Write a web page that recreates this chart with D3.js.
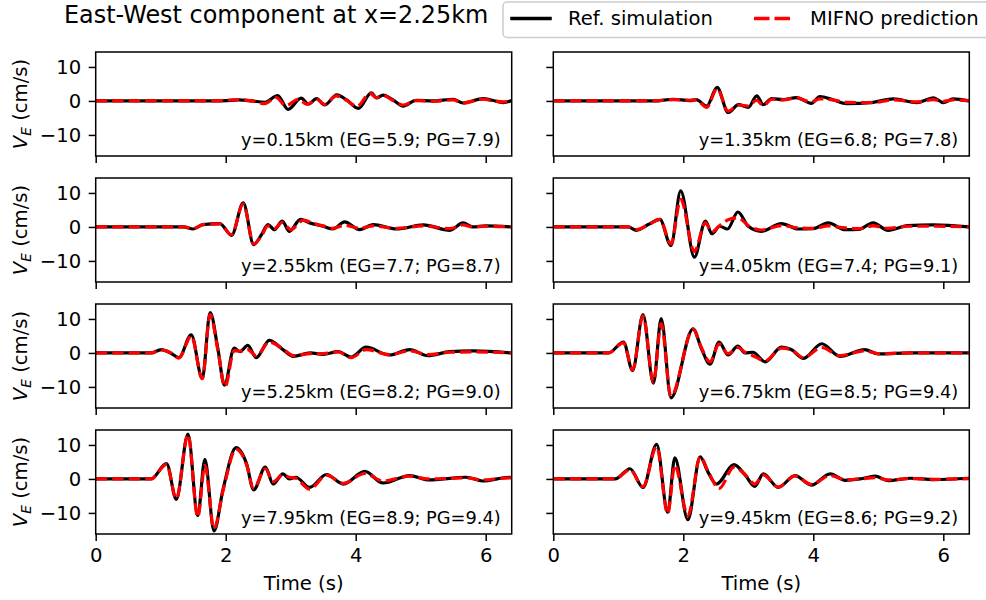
<!DOCTYPE html>
<html>
<head>
<meta charset="utf-8">
<script src="https://cdn.jsdelivr.net/npm/d3@7"></script>
<style>
  html, body { margin: 0; padding: 0; background: #fff; }
  svg { display: block; font-family: "DejaVu Sans", sans-serif; }
</style>
</head>
<body>
<svg id="chart" width="986" height="600"></svg>
<script>
// Station labels (one per panel, left column then right column, top to bottom)
const stationLabels = [
  "y=0.15km (EG=5.9; PG=7.9)",
  "y=1.35km (EG=6.8; PG=7.8)",
  "y=2.55km (EG=7.7; PG=8.7)",
  "y=4.05km (EG=7.4; PG=9.1)",
  "y=5.25km (EG=8.2; PG=9.0)",
  "y=6.75km (EG=8.5; PG=9.4)",
  "y=7.95km (EG=8.9; PG=9.4)",
  "y=9.45km (EG=8.6; PG=9.2)"
];
const xTicks = [0, 2, 4, 6];
const yTicks = [-10, 0, 10];
const seriesNames = ["Ref. simulation", "MIFNO prediction"];

// East-West velocity traces, [time (s), V_E (cm/s)]
const ref015 = [[0,0],[1.8,0],[2.0,0.1],[2.2,0.3],[2.4,0],[2.6,-0.4],[2.8,1.6],[2.96,-2.5],[3.16,0.8],[3.27,-0.9],[3.4,0.7],[3.52,-1.2],[3.71,1.8],[3.86,0.3],[4.04,-2.2],[4.24,2.4],[4.32,0.9],[4.42,1.7],[4.58,0.2],[4.73,-1.5],[4.93,0.2],[5.19,0],[5.5,0.5],[5.65,-0.6],[5.96,0.7],[6.1,0.2],[6.27,-0.5],[6.4,0.1]];
const pred015 = [[0,0],[1.8,0],[2.0,0.2],[2.2,0.4],[2.4,0],[2.6,-0.8],[2.78,1.0],[2.92,-1.4],[3.12,0.5],[3.25,-1.0],[3.4,0.5],[3.52,-1.0],[3.7,1.5],[3.86,0.2],[4.02,-1.6],[4.22,2.2],[4.32,1.0],[4.42,1.6],[4.58,0.1],[4.73,-1.2],[4.93,0.1],[5.19,-0.1],[5.5,0.3],[5.65,-0.6],[5.96,0.5],[6.1,0.1],[6.27,-0.3],[6.4,0.1]];

const ref135 = [[0,0],[1.55,0],[1.85,0.5],[2.1,0.1],[2.2,0.4],[2.36,-1.5],[2.52,4.0],[2.69,-3.4],[2.85,-1.1],[3.0,-1.9],[3.13,1.5],[3.23,-1.1],[3.36,0.7],[3.54,0.4],[3.74,1.0],[3.97,-0.7],[4.1,1.3],[4.31,0.3],[4.51,-0.8],[4.92,-0.4],[5.23,0.6],[5.59,-0.5],[5.85,0.9],[6.0,-0.5],[6.15,0.6],[6.4,0]];
const pred135 = [[0,0],[1.55,0],[1.85,0.4],[2.1,0.2],[2.2,0.3],[2.36,-1.9],[2.52,3.6],[2.69,-3.0],[2.85,-1.2],[3.0,-1.5],[3.13,0.2],[3.23,-1.4],[3.36,0.5],[3.54,0.3],[3.74,0.9],[3.97,-0.3],[4.1,0.6],[4.31,0.3],[4.51,-0.4],[4.92,-0.5],[5.23,0.3],[5.59,-0.3],[5.85,0.4],[6.0,-0.1],[6.15,0.3],[6.4,0]];

const ref255 = [[0,0],[1.35,0],[1.5,-0.6],[1.65,0.7],[1.91,1.0],[2.09,-2.5],[2.27,7.1],[2.43,-5.2],[2.55,-2.3],[2.65,0.7],[2.75,-0.8],[2.87,1.7],[2.98,-1.3],[3.15,2.2],[3.29,1.2],[3.5,0.2],[3.65,-0.6],[3.83,1.5],[4.06,-0.8],[4.27,0.7],[4.63,-0.6],[5.04,0.6],[5.45,-1.0],[5.65,1.2],[5.8,0],[6.0,0.3],[6.4,0]];
const pred255 = [[0,0],[1.35,0],[1.5,-0.5],[1.65,0.7],[1.91,0.9],[2.09,-2.3],[2.27,6.8],[2.43,-5.0],[2.55,-2.6],[2.65,0.3],[2.75,-0.5],[2.87,1.3],[3.0,-0.8],[3.2,2.0],[3.35,1.0],[3.5,0.3],[3.65,-0.4],[3.83,0.5],[4.06,-0.4],[4.27,0.3],[4.63,-0.4],[5.04,0.3],[5.45,-0.5],[5.65,0.6],[5.8,0],[6.0,0.2],[6.4,0]];

const ref405 = [[0,0],[1.15,0],[1.28,-1.0],[1.46,0.7],[1.64,2.2],[1.81,-5.5],[1.96,10.6],[2.17,-8.9],[2.34,1.7],[2.44,-2.0],[2.56,0.2],[2.68,-0.6],[2.84,4.4],[3.0,0.2],[3.2,-1.3],[3.51,1.0],[3.77,-0.6],[4.0,-0.5],[4.23,1.2],[4.49,-0.8],[4.7,-0.7],[4.92,1.2],[5.15,-1.0],[5.45,0.4],[5.85,0.6],[6.4,0]];
const pred405 = [[0,0],[1.15,0],[1.28,-0.8],[1.46,0.6],[1.64,2.2],[1.81,-5.0],[1.96,8.1],[2.17,-7.2],[2.34,1.2],[2.44,-1.5],[2.56,0.4],[2.7,2.2],[2.84,2.7],[3.0,0.4],[3.2,-0.9],[3.51,0.4],[3.77,-0.3],[4.0,-0.4],[4.23,0.3],[4.49,-0.3],[4.7,-0.5],[4.92,0.3],[5.15,-0.4],[5.45,0.2],[5.85,0.2],[6.4,0]];

const ref525 = [[0,0],[0.85,0],[1.01,1.0],[1.15,0],[1.28,-1.4],[1.47,5.3],[1.64,-7.5],[1.76,11.9],[1.88,1.2],[1.98,-9.5],[2.13,1.4],[2.22,0.4],[2.34,2.2],[2.47,-1.4],[2.67,3.7],[2.88,1.0],[3.04,-1.0],[3.3,0],[3.5,-0.4],[3.73,0.4],[3.93,-1.2],[4.16,1.7],[4.52,-0.6],[4.83,1.0],[5.11,-0.8],[5.45,0.4],[5.8,0.6],[6.4,0]];
const pred525 = [[0,0],[0.85,0],[1.01,0.9],[1.15,0.1],[1.28,-1.5],[1.47,5.0],[1.64,-7.6],[1.76,11.3],[1.88,0.8],[1.99,-9.9],[2.13,0.7],[2.22,0.5],[2.34,1.0],[2.47,-0.9],[2.67,3.2],[2.88,1.2],[3.04,-0.8],[3.3,-0.2],[3.5,-0.2],[3.73,0.3],[3.93,-1.4],[4.16,1.0],[4.52,-0.5],[4.83,0.6],[5.11,-0.5],[5.45,0.2],[5.8,0.3],[6.4,0]];

const ref675 = [[0,0],[0.85,0],[1.08,3.2],[1.22,-5.2],[1.38,11.3],[1.54,-8.9],[1.66,10.1],[1.81,-13.2],[2.15,7.1],[2.28,1.2],[2.41,-3.3],[2.55,3.2],[2.69,-0.6],[2.84,2.0],[2.95,0],[3.07,0.2],[3.26,-2.6],[3.51,1.7],[3.66,1.0],[3.85,-1.6],[4.13,2.7],[4.41,-1.0],[4.79,1.0],[5.0,-0.3],[5.5,0],[6.4,0]];
const pred675 = [[0,0],[0.85,0],[1.08,3.0],[1.22,-5.0],[1.38,10.9],[1.54,-8.6],[1.66,8.6],[1.81,-12.7],[2.15,7.0],[2.28,1.5],[2.41,-2.6],[2.55,2.6],[2.69,-0.2],[2.84,1.6],[2.95,0.2],[3.07,-0.8],[3.26,-2.3],[3.51,1.4],[3.66,0.9],[3.85,-1.4],[4.13,1.6],[4.41,-0.8],[4.79,0.6],[5.0,-0.2],[5.5,0],[6.4,0]];

const ref795 = [[0,0],[0.85,0],[1.09,4.5],[1.24,-6.0],[1.42,13.2],[1.57,-10.8],[1.68,5.8],[1.82,-15.3],[1.96,-3.0],[2.16,9.2],[2.32,4.5],[2.43,-3.2],[2.61,3.5],[2.73,-1.5],[2.88,1.5],[2.98,0],[3.08,0.5],[3.29,-2.5],[3.55,1.3],[3.81,-1.5],[4.14,2.2],[4.42,-1.2],[4.83,1.0],[5.12,-0.3],[5.7,0.5],[5.95,-0.6],[6.37,0.5],[6.4,0.4]];
const pred795 = [[0,0],[0.85,0],[1.09,4.3],[1.24,-5.8],[1.42,13.0],[1.57,-11.2],[1.68,4.0],[1.82,-14.6],[1.96,-3.4],[2.16,8.8],[2.32,4.3],[2.43,-2.8],[2.61,3.0],[2.73,-0.8],[2.88,1.2],[2.98,0.5],[3.08,0.2],[3.29,-3.0],[3.55,1.1],[3.81,-1.3],[4.14,1.6],[4.42,-0.6],[4.83,0.8],[5.12,0],[5.7,0.3],[5.95,-0.3],[6.37,0.3],[6.4,0.3]];

const ref945 = [[0,0],[0.95,0],[1.18,3.0],[1.38,-2.5],[1.59,10.2],[1.76,-9.8],[1.87,6.2],[2.07,-12.0],[2.26,6.5],[2.38,2.0],[2.51,-1.5],[2.78,4.2],[2.95,1.2],[3.1,-2.2],[3.23,1.5],[3.46,-2.5],[3.72,1.0],[3.97,-1.8],[4.26,1.5],[4.49,-0.4],[4.72,0],[4.95,0.8],[5.15,-0.5],[5.5,0.2],[5.85,-0.2],[6.4,0.2]];
const pred945 = [[0,0],[0.95,0],[1.18,2.7],[1.38,-2.3],[1.59,9.5],[1.76,-10.2],[1.87,4.0],[2.07,-10.8],[2.26,6.5],[2.38,2.3],[2.55,-2.8],[2.78,3.5],[2.95,1.3],[3.1,-1.5],[3.23,1.2],[3.46,-2.4],[3.72,0.9],[3.97,-1.6],[4.26,1.0],[4.49,-0.2],[4.72,0],[4.95,0.4],[5.15,-0.3],[5.5,0.1],[5.85,-0.1],[6.4,0.1]];

const refTraces  = [ref015, ref135, ref255, ref405, ref525, ref675, ref795, ref945];
const predTraces = [pred015, pred135, pred255, pred405, pred525, pred675, pred795, pred945];

// ---- layout ----
const svg = d3.select("#chart");
const FONT = 19.6;
const colX = [95.7, 553.3];
const panelW = 416;
const rowY = [52, 178, 304, 430];
const panelH = 104;
const tickLen = 7;

const x = d3.scaleLinear().domain([0, 6.4]).range([0, panelW]);
const y = d3.scaleLinear().domain([-16.2, 14.4]).range([panelH, 0]);

const line = d3.line()
  .x(d => x(d[0]))
  .y(d => y(d[1]))
  .curve(d3.curveMonotoneX);

const defs = svg.append("defs");
defs.append("clipPath").attr("id", "plotClip")
  .append("rect").attr("width", panelW).attr("height", panelH);

stationLabels.forEach((label, i) => {
  const row = Math.floor(i / 2), col = i % 2;
  const g = svg.append("g")
    .attr("transform", `translate(${colX[col]},${rowY[row]})`);

  const plot = g.append("g").attr("clip-path", "url(#plotClip)");
  plot.append("path")
    .datum(refTraces[i])
    .attr("d", line)
    .attr("fill", "none")
    .attr("stroke", "#000")
    .attr("stroke-width", 3.2)
    .attr("stroke-linejoin", "round");
  plot.append("path")
    .datum(predTraces[i])
    .attr("d", line)
    .attr("fill", "none")
    .attr("stroke", "#ff0000")
    .attr("stroke-width", 3.2)
    .attr("stroke-dasharray", "11.5,5");

  // axes frame
  g.append("rect")
    .attr("width", panelW).attr("height", panelH)
    .attr("fill", "none").attr("stroke", "#000").attr("stroke-width", 1.5);

  const yAxis = d3.axisLeft(y).tickValues(yTicks).tickSize(tickLen).tickPadding(7.5)
    .tickFormat(col === 1 ? () => "" : d3.format("d"));
  const ya = g.append("g").call(yAxis);

  const xAxis = d3.axisBottom(x).tickValues(xTicks).tickSize(tickLen).tickPadding(7)
    .tickFormat(row < 3 ? () => "" : d3.format("d"));
  const xa = g.append("g").attr("transform", `translate(0,${panelH})`).call(xAxis);

  [ya, xa].forEach(a => {
    a.select(".domain").remove();
    a.selectAll(".tick line").attr("stroke", "#000").attr("stroke-width", 1.5);
    a.selectAll(".tick text")
      .attr("fill", "#000")
      .style("font-size", FONT + "px")
      .style("font-family", "DejaVu Sans");
  });

  g.append("text")
    .attr("x", panelW - 11)
    .attr("y", panelH - 10)
    .attr("text-anchor", "end")
    .style("font-size", "17.8px")
    .text(label);

  if (col === 0) {
    const yl = svg.append("text")
      .attr("transform", `translate(27,${rowY[row] + panelH / 2}) rotate(-90)`)
      .attr("text-anchor", "middle")
      .style("font-size", FONT + "px");
    yl.append("tspan").style("font-style", "italic").text("V");
    yl.append("tspan").style("font-style", "italic").style("font-size", "13.7px")
      .attr("dy", 4).text("E");
    yl.append("tspan").attr("dy", -4).text(" (cm/s)");
  }

  if (row === 3) {
    svg.append("text")
      .attr("x", colX[col] + panelW / 2)
      .attr("y", 590)
      .attr("text-anchor", "middle")
      .style("font-size", FONT + "px")
      .text("Time (s)");
  }
});

// title
svg.append("text")
  .attr("x", 64)
  .attr("y", 23)
  .style("font-size", "23.9px")
  .text("East-West component at x=2.25km");

// legend
const leg = svg.append("g");
leg.append("rect")
  .attr("x", 503).attr("y", 2).attr("width", 500).attr("height", 35.5)
  .attr("rx", 4)
  .attr("fill", "#fff").attr("fill-opacity", 0.8)
  .attr("stroke", "#cccccc").attr("stroke-width", 1.5);
leg.append("line")
  .attr("x1", 512).attr("x2", 550).attr("y1", 18.5).attr("y2", 18.5)
  .attr("stroke", "#000").attr("stroke-width", 3.5).attr("stroke-linecap", "square");
leg.append("text")
  .attr("x", 568).attr("y", 25)
  .style("font-size", FONT + "px")
  .text(seriesNames[0]);
leg.append("line")
  .attr("x1", 754).attr("x2", 790).attr("y1", 18.5).attr("y2", 18.5)
  .attr("stroke", "#ff0000").attr("stroke-width", 3.5)
  .attr("stroke-dasharray", "15.5,5");
leg.append("text")
  .attr("x", 810).attr("y", 25)
  .style("font-size", FONT + "px")
  .text(seriesNames[1]);
</script>
</body>
</html>
